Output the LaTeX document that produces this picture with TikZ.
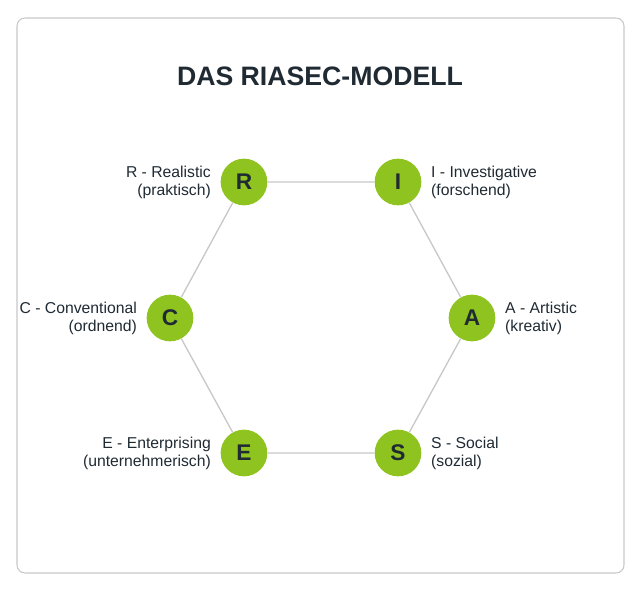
\documentclass[tikz,border=0pt]{standalone}
\usepackage{fontspec}
\setmainfont{Liberation Sans}
\usetikzlibrary{positioning}
\definecolor{riagreen}{HTML}{8FC31F}
\definecolor{riadark}{HTML}{1F2A33}
\definecolor{rialine}{HTML}{C8C8C8}
\tikzset{
  letter/.style={circle, fill=riagreen, minimum size=35pt, inner sep=0pt, font=\bfseries\fontsize{17}{17}\selectfont, text=riadark},
  lbl/.style={font=\fontsize{11.8}{13.5}\selectfont, text=riadark, inner sep=0pt},
  link/.style={draw=rialine, line width=1pt}
}
\begin{document}
\begin{tikzpicture}[x=0.75pt, y=-0.75pt]
\useasboundingbox (0,0) rectangle (640,592);
\draw[draw=rialine, line width=0.8pt, rounded corners=6pt] (17,18) rectangle (624,573);
\node[font=\bfseries\fontsize{20}{24}\selectfont, text=riadark] (title) at (320,76) {DAS RIASEC-MODELL};
% Sechseck
\node[letter] (R) at (244,182) {R};
\node[letter] (I) at (398,182) {I};
\node[letter] (A) at (472,318) {A};
\node[letter] (S) at (398,453) {S};
\node[letter] (E) at (244,453) {E};
\node[letter] (C) at (170,318) {C};
\draw[link] (R) -- (I) -- (A) -- (S) -- (E) -- (C) -- (R);
% Beschriftungen
\node[lbl, align=right, left=7pt of R] (lR) {R - Realistic\\(praktisch)};
\node[lbl, align=left, right=7pt of I] (lI) {I - Investigative\\(forschend)};
\node[lbl, align=left, right=7pt of A] (lA) {A - Artistic\\(kreativ)};
\node[lbl, align=left, right=7pt of S] (lS) {S - Social\\(sozial)};
\node[lbl, align=right, left=7pt of E] (lE) {E - Enterprising\\(unternehmerisch)};
\node[lbl, align=right, left=7pt of C] (lC) {C - Conventional\\(ordnend)};
\end{tikzpicture}
\end{document}
